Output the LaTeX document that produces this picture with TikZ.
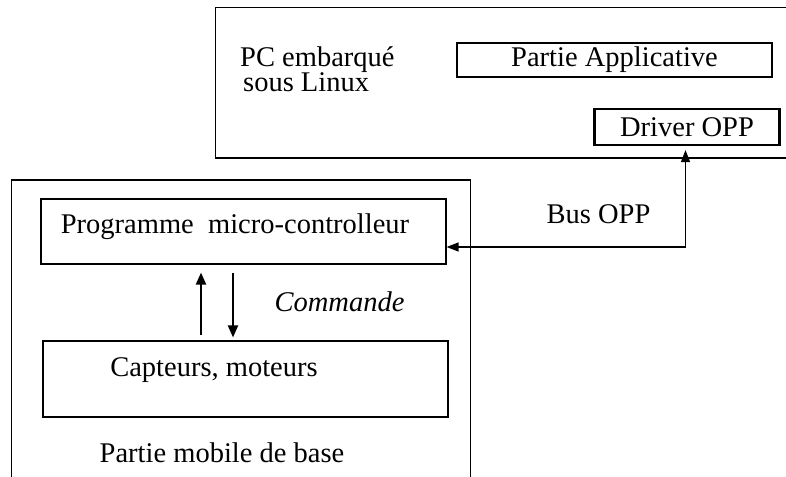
\documentclass[tikz,border=0pt]{standalone}
\usepackage{fontspec}
\setmainfont{Liberation Serif}
\usetikzlibrary{arrows.meta, positioning}
\tikzset{
  cadre/.style = {draw, line width=1.1pt, inner sep=0pt},
  bloc/.style  = {draw, line width=1.1pt, inner sep=0pt, font=\fontsize{28.5}{26}\selectfont},
  blocg/.style = {bloc, line width=2.2pt},
  txt/.style   = {inner sep=0pt, anchor=base, font=\fontsize{28.5}{24}\selectfont},
  fl/.style    = {-{Triangle[length=12pt,width=10pt]}, line width=2pt},
  bus/.style   = {{Triangle[length=12pt,width=9pt]}-{Triangle[length=12pt,width=9pt]}, line width=1.2pt},
}
\begin{document}
\begin{tikzpicture}[x=1pt, y=-1pt]
  \useasboundingbox (0,0) rectangle (786,476);
  % PC embarque
  \node[cadre, minimum width=574.5pt, minimum height=150.5pt] (pc) at (502.75,82.75) {};
  \node[txt, anchor=base west, align=left] (pctxt) at (240,92) {PC embarqué\\\hspace{3pt}sous Linux};
  \node[bloc, minimum width=315pt, minimum height=34pt] (app) at (614.5,60) {Partie Applicative};
  \node[blocg, minimum width=185pt, minimum height=36pt] (drv) at (687,127) {Driver OPP};
  % partie mobile
  \node[cadre, minimum width=459pt, minimum height=300pt] (base) at (241,330) {};
  \node[bloc, minimum width=405pt, minimum height=65pt] (prog) at (243.5,231.5) {};
  \node[txt] (progtxt) at (235,233) {Programme\ \ micro-controlleur};
  \node[bloc, minimum width=405pt, minimum height=76pt] (caps) at (245.5,379) {};
  \node[txt] (capstxt) at (214,376.7) {Capteurs, moteurs};
  \node[txt] (cmd) at (339.5,311) {\itshape Commande};
  \node[txt] (basetxt) at (222,462) {Partie mobile de base};
  \node[txt] (bustxt) at (598.5,223) {Bus OPP};
  % liaisons
  \draw[fl, shorten <=5pt, shorten >=8pt] ([xshift=-44.5pt]caps.north) -- ([xshift=-42.5pt]prog.south);
  \draw[fl, shorten <=8pt, shorten >=3pt] ([xshift=-10.5pt]prog.south) -- ([xshift=-12.5pt]caps.north);
  \draw[bus, shorten <=4pt] ([xshift=-1.5pt]drv.south) |- ([yshift=-15.5pt]prog.east);
\end{tikzpicture}
\end{document}
